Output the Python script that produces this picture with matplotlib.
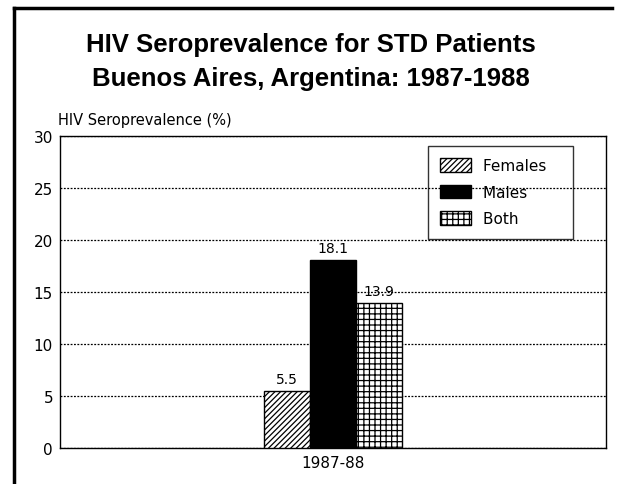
import matplotlib
matplotlib.use('Agg')
import matplotlib.pyplot as plt

plt.rcParams['font.family'] = ['DejaVu Sans']
plt.rcParams['hatch.linewidth'] = 0.9

# data
category = '1987-88'
groups = ['Females', 'Males', 'Both']
values = [5.5, 18.1, 13.9]
labels = ['5.5', '18.1', '13.9']
yticks = [0, 5, 10, 15, 20, 25, 30]

fig = plt.figure(figsize=(6.22, 4.85), dpi=100)
ax = fig.add_axes([60/622, 1 - 449/485, 546/622, 312/485])

width = 0.168
offsets = [-width, 0, width]
styles = [dict(facecolor='white', hatch='//////'),
          dict(facecolor='black', hatch=None),
          dict(facecolor='white', hatch='+++')]
for g, v, lab, off, st in zip(groups, values, labels, offsets, styles):
    # trailing spaces widen the legend box on the right, as in the original
    ax.bar(off, v, width, edgecolor='black', linewidth=1.0, label=g + '   ',
           zorder=3, **st)
    ax.text(off, v + 0.5, lab, ha='center', va='bottom', fontsize=10, zorder=4)

ax.set_xlim(-1, 1)
ax.set_ylim(0, 30)
ax.set_yticks(yticks)
ax.set_xticks([0])
ax.set_xticklabels([category])
ax.tick_params(length=0, labelsize=11, pad=5)
ax.yaxis.grid(True, linestyle=(0, (1.5, 1.2)), color='black', linewidth=0.9, zorder=1)
for s in ax.spines.values():
    s.set_linewidth(1.0)

ax.text(-0.004, 1.03, 'HIV Seroprevalence (%)', transform=ax.transAxes,
        fontsize=10.5, ha='left', va='bottom')

leg = ax.legend(loc='upper left', bbox_to_anchor=(0.674, 0.968), fontsize=11,
                frameon=True, fancybox=False, edgecolor='black', facecolor='none',
                handlelength=2.0, handleheight=1.0, labelspacing=0.75,
                borderpad=0.8, handletextpad=0.8, borderaxespad=0)
leg.get_frame().set_linewidth(1.0)

fig.text(0.5, 1 - 45/485, 'HIV Seroprevalence for STD Patients', ha='center',
         va='center', fontsize=18.5, fontweight='bold', family='Liberation Sans')
fig.text(0.5, 1 - 79/485, 'Buenos Aires, Argentina: 1987-1988', ha='center',
         va='center', fontsize=18.5, fontweight='bold', family='Liberation Sans')

# outer frame
fig.add_artist(plt.Line2D([14/622, 14/622], [0, 1 - 9/485], color='black',
                          linewidth=2.5, transform=fig.transFigure))
fig.add_artist(plt.Line2D([14/622, 612/622], [1 - 9/485, 1 - 9/485], color='black',
                          linewidth=2.5, transform=fig.transFigure))

fig.savefig('out.png', dpi=100)
